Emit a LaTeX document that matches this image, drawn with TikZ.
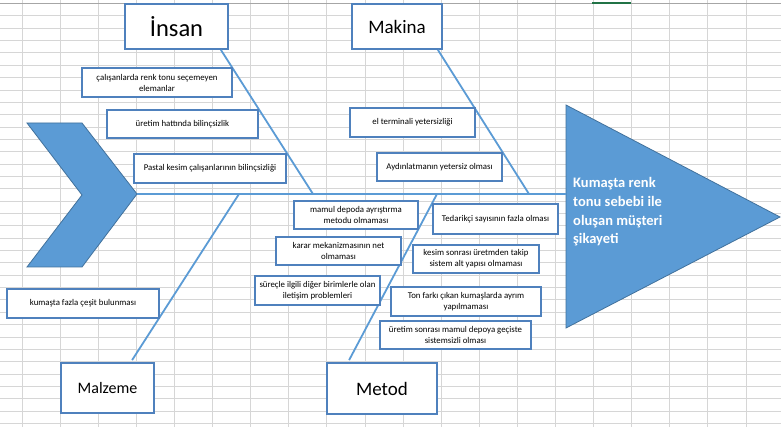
\documentclass[tikz,border=0pt]{standalone}
\usepackage{fontspec}
\setmainfont{Carlito}
\usetikzlibrary{calc}
\definecolor{acc}{RGB}{91,155,213}
\definecolor{accdark}{RGB}{65,113,156}
\definecolor{boxline}{RGB}{79,129,189}
\definecolor{gridc}{RGB}{214,214,214}
\definecolor{xlgreen}{RGB}{33,115,70}
\begin{document}
\begin{tikzpicture}[x=1pt,y=-1pt,
  cause/.style={draw=boxline,line width=1.8pt,fill=white,align=center,inner sep=0pt,
    font=\fontsize{8.8}{11}\selectfont},
  catbox/.style={draw=boxline,line width=1.8pt,fill=white,inner sep=0pt},
  bone/.style={draw=acc,line width=1.8pt},
  shapefill/.style={fill=acc,draw=accdark,line width=0.8pt,line join=miter},
  gridline/.style={draw=gridc,line width=0.8pt}]
\useasboundingbox (0,0) rectangle (781,427);
\fill[white] (0,0) rectangle (781,427);
% spreadsheet grid
\foreach \k in {0,...,19} \draw[gridline] ({22+38.1*\k},0) -- ({22+38.1*\k},427);
\foreach \k in {1,...,34} \draw[gridline] (0,{3.5+12.35*\k}) -- (781,{3.5+12.35*\k});
\draw[draw=gray!70,line width=0.9pt] (0,3.5) -- (781,3.5);
\draw[draw=xlgreen,line width=2pt] (592,3) -- (631,3);

% chevron (left) and triangle (effect)
\draw[shapefill] (27,123) -- (82,123) -- (137,194) -- (82,267) -- (27,267) -- (82,195) -- cycle;
\coordinate (chevtip) at (137,194);
\draw[shapefill] (566,105) -- (780,217) -- (566,328) -- cycle;
\coordinate (trileft) at (566,194);
\node[anchor=north west,inner sep=0pt,align=left,text=white,
  font=\bfseries\fontsize{14.5}{18.6}\selectfont] (effect) at (573,177.5)
  {Kumaşta renk\\tonu sebebi ile\\oluşan müşteri\\şikayeti};

% junctions on the spine
\coordinate (jI) at (313,194);
\coordinate (jM) at (529,194);
\coordinate (jL) at (239,194);
\coordinate (jT) at (437,194);

% category boxes
\node[catbox,minimum width=103pt,minimum height=45pt,font=\fontsize{24.5}{28}\selectfont] (insan) at (176.5,26.5) {İnsan};
\node[catbox,minimum width=90pt,minimum height=45pt,font=\fontsize{19}{22}\selectfont] (makina) at (397,26.5) {Makina};
\node[catbox,minimum width=93pt,minimum height=50pt,font=\fontsize{16}{19}\selectfont] (malzeme) at (107.5,388) {Malzeme};
\node[catbox,minimum width=110pt,minimum height=51pt,font=\fontsize{19}{22}\selectfont] (metod) at (382,388.5) {Metod};

% bones
\draw[bone] (chevtip) -- (trileft);
\draw[bone] ($(insan.south east)+(-8,0)$) -- (jI);
\draw[bone] ($(makina.south east)+(-5,0)$) -- (jM);
\draw[bone] (jL) -- ($(malzeme.north west)+(72,-2)$);
\draw[bone] (jT) -- ($(metod.north west)+(23,-2)$);

% cause boxes
\node[cause,minimum width=150pt,minimum height=29pt] (c1) at (157,82.5) {çalışanlarda renk tonu seçemeyen\\elemanlar};
\node[cause,minimum width=151pt,minimum height=28pt] (c2) at (182.5,124) {üretim hattında bilinçsizlik};
\node[cause,minimum width=152pt,minimum height=29pt] (c3) at (210,168.5) {Pastal kesim çalışanlarının bilinçsizliği};
\node[cause,minimum width=125pt,minimum height=29pt] (c4) at (412.5,122.5) {el terminali yetersizliği};
\node[cause,minimum width=125pt,minimum height=28pt] (c5) at (439.5,167) {Aydınlatmanın yetersiz olması};
\node[cause,minimum width=152pt,minimum height=29pt] (c6) at (83,303.5) {kumaşta fazla çeşit bulunması};
\node[cause,minimum width=124pt,minimum height=28pt] (c7) at (356,215) {mamul depoda ayrıştırma\\metodu olmaması};
\node[cause,minimum width=125pt,minimum height=28pt] (c8) at (338.5,251) {karar mekanizmasının net\\olmaması};
\node[cause,minimum width=125pt,minimum height=29pt] (c9) at (317.5,290.5) {süreçle ilgili diğer birimlerle olan\\iletişim problemleri};
\node[cause,minimum width=125pt,minimum height=30pt] (c10) at (495.5,219) {Tedarikçi sayısının fazla olması};
\node[cause,minimum width=126pt,minimum height=28pt] (c11) at (476,259) {kesim sonrası üretmden takip\\sistem alt yapısı olmaması};
\node[cause,minimum width=150pt,minimum height=29pt] (c12) at (466,301.5) {Ton farkı çıkan kumaşlarda ayrım\\yapılmaması};
\node[cause,minimum width=151pt,minimum height=28pt] (c13) at (455.5,335) {üretim sonrası mamul depoya geçiste\\sistemsizli olması};
\end{tikzpicture}
\end{document}
